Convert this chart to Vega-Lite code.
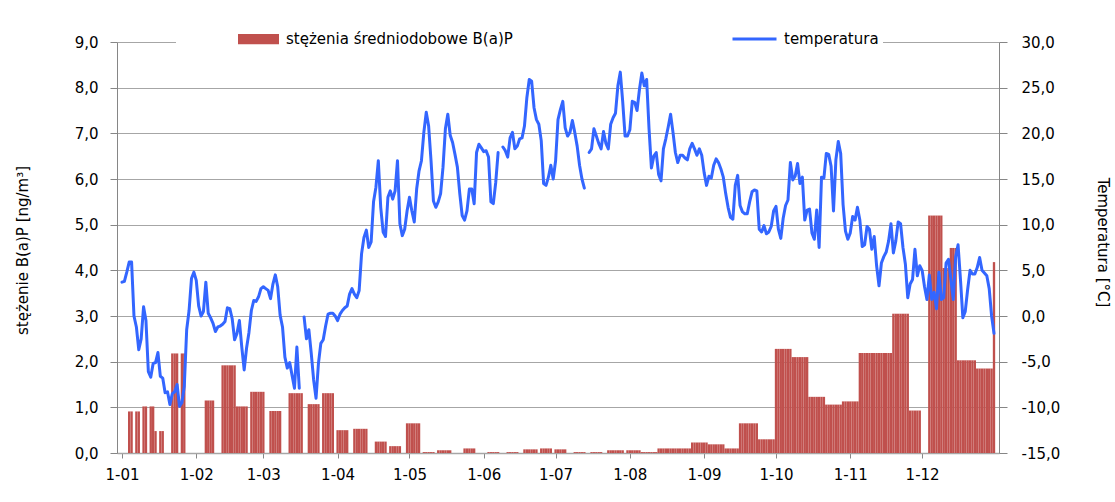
{
"$schema":"https://vega.github.io/schema/vega-lite/v6.json",
"width":882,"height":411,
"autosize":{"type":"none"},
"padding":{"left":117,"top":42,"right":116,"bottom":49},
"background":"white",
"config":{
 "view":{"stroke":null},
 "font":"DejaVu Sans",
 "locale":{"number":{"decimal":",","thousands":" ","grouping":[3],"currency":[""," zł"],"minus":"-"}},
 "axis":{"labelFont":"DejaVu Sans","titleFont":"DejaVu Sans","labelColor":"#000000","titleColor":"#000000","labelFontSize":15,"titleFontSize":15,"titleFontWeight":"normal","domainColor":"#868686","tickColor":"#868686","gridColor":"#a6a6a6","labelFlush":false,"labelOverlap":false}
},
"data":{"values":[
{"date":"2010-01-01","temp":3.7},{"date":"2010-01-02","temp":3.8},{"date":"2010-01-03","temp":4.8},{"date":"2010-01-04","bap":0.91,"temp":5.9},{"date":"2010-01-05","bap":0.91,"temp":5.9},{"date":"2010-01-06","temp":0.0},{"date":"2010-01-07","bap":0.91,"temp":-1.2},{"date":"2010-01-08","bap":0.91,"temp":-3.7},{"date":"2010-01-09","temp":-2.5},{"date":"2010-01-10","bap":1.02,"temp":1.0},{"date":"2010-01-11","bap":1.02,"temp":-0.5},{"date":"2010-01-12","temp":-6.1},{"date":"2010-01-13","bap":1.02,"temp":-6.7},{"date":"2010-01-14","bap":1.02,"temp":-5.2},{"date":"2010-01-15","bap":0.48,"temp":-5.1},{"date":"2010-01-16","temp":-4.0},{"date":"2010-01-17","bap":0.48,"temp":-6.6},{"date":"2010-01-18","bap":0.48,"temp":-6.8},{"date":"2010-01-19","temp":-8.4},{"date":"2010-01-20","temp":-8.3},{"date":"2010-01-21","temp":-9.7},{"date":"2010-01-22","bap":2.18,"temp":-8.5},{"date":"2010-01-23","bap":2.18,"temp":-8.3},{"date":"2010-01-24","bap":2.18,"temp":-7.5},{"date":"2010-01-25","temp":-9.9},{"date":"2010-01-26","bap":2.18,"temp":-9.5},{"date":"2010-01-27","bap":2.18,"temp":-7.7},{"date":"2010-01-28","temp":-1.5},{"date":"2010-01-29","temp":0.6},{"date":"2010-01-30","temp":4.1},{"date":"2010-01-31","temp":4.8},
{"date":"2010-02-01","temp":3.9},{"date":"2010-02-02","temp":1.1},{"date":"2010-02-03","temp":0.0},{"date":"2010-02-04","temp":0.5},{"date":"2010-02-05","bap":1.15,"temp":3.7},{"date":"2010-02-06","bap":1.15,"temp":0.3},{"date":"2010-02-07","bap":1.15,"temp":-0.2},{"date":"2010-02-08","bap":1.15,"temp":-0.8},{"date":"2010-02-09","temp":-1.7},{"date":"2010-02-10","temp":-1.2},{"date":"2010-02-11","temp":-1.1},{"date":"2010-02-12","bap":1.92,"temp":-0.9},{"date":"2010-02-13","bap":1.92,"temp":-0.6},{"date":"2010-02-14","bap":1.92,"temp":0.9},{"date":"2010-02-15","bap":1.92,"temp":0.8},{"date":"2010-02-16","bap":1.92,"temp":-0.3},{"date":"2010-02-17","bap":1.92,"temp":-2.6},{"date":"2010-02-18","bap":1.02,"temp":-1.9},{"date":"2010-02-19","bap":1.02,"temp":-0.5},{"date":"2010-02-20","bap":1.02,"temp":-3.4},{"date":"2010-02-21","bap":1.02,"temp":-5.9},{"date":"2010-02-22","bap":1.02,"temp":-3.5},{"date":"2010-02-23","temp":-1.8},{"date":"2010-02-24","bap":1.34,"temp":0.6},{"date":"2010-02-25","bap":1.34,"temp":1.7},{"date":"2010-02-26","bap":1.34,"temp":1.6},{"date":"2010-02-27","bap":1.34,"temp":2.1},{"date":"2010-02-28","bap":1.34,"temp":3.0},
{"date":"2010-03-01","bap":1.34,"temp":3.2},{"date":"2010-03-02","temp":3.0},{"date":"2010-03-03","temp":2.8},{"date":"2010-03-04","bap":0.92,"temp":1.9},{"date":"2010-03-05","bap":0.92,"temp":3.5},{"date":"2010-03-06","bap":0.92,"temp":4.5},{"date":"2010-03-07","bap":0.92,"temp":3.2},{"date":"2010-03-08","bap":0.92,"temp":0.1},{"date":"2010-03-09","temp":-1.2},{"date":"2010-03-10","temp":-4.5},{"date":"2010-03-11","temp":-5.7},{"date":"2010-03-12","bap":1.31,"temp":-5.1},{"date":"2010-03-13","bap":1.31,"temp":-6.5},{"date":"2010-03-14","bap":1.31,"temp":-7.9},{"date":"2010-03-15","bap":1.31,"temp":-3.4},{"date":"2010-03-16","bap":1.31,"temp":-7.9},{"date":"2010-03-17","bap":1.31,"temp":null},{"date":"2010-03-18","temp":-0.1},{"date":"2010-03-19","temp":-2.5},{"date":"2010-03-20","bap":1.07,"temp":-1.5},{"date":"2010-03-21","bap":1.07,"temp":-4.1},{"date":"2010-03-22","bap":1.07,"temp":-7.0},{"date":"2010-03-23","bap":1.07,"temp":-9.0},{"date":"2010-03-24","bap":1.07,"temp":-5.2},{"date":"2010-03-25","temp":-3.0},{"date":"2010-03-26","bap":1.31,"temp":-2.6},{"date":"2010-03-27","bap":1.31,"temp":-1.1},{"date":"2010-03-28","bap":1.31,"temp":0.2},{"date":"2010-03-29","bap":1.31,"temp":0.3},{"date":"2010-03-30","bap":1.31,"temp":0.3},{"date":"2010-03-31","temp":0.0},
{"date":"2010-04-01","bap":0.5,"temp":-0.5},{"date":"2010-04-02","bap":0.5,"temp":0.2},{"date":"2010-04-03","bap":0.5,"temp":0.6},{"date":"2010-04-04","bap":0.5,"temp":0.9},{"date":"2010-04-05","bap":0.5,"temp":1.1},{"date":"2010-04-06","temp":2.4},{"date":"2010-04-07","temp":3.0},{"date":"2010-04-08","bap":0.53,"temp":2.4},{"date":"2010-04-09","bap":0.53,"temp":2.0},{"date":"2010-04-10","bap":0.53,"temp":2.8},{"date":"2010-04-11","bap":0.53,"temp":6.8},{"date":"2010-04-12","bap":0.53,"temp":8.6},{"date":"2010-04-13","bap":0.53,"temp":9.4},{"date":"2010-04-14","temp":7.5},{"date":"2010-04-15","temp":8.1},{"date":"2010-04-16","temp":12.5},{"date":"2010-04-17","bap":0.25,"temp":14.1},{"date":"2010-04-18","bap":0.25,"temp":17.0},{"date":"2010-04-19","bap":0.25,"temp":11.9},{"date":"2010-04-20","bap":0.25,"temp":9.2},{"date":"2010-04-21","bap":0.25,"temp":8.7},{"date":"2010-04-22","temp":13.0},{"date":"2010-04-23","bap":0.15,"temp":13.7},{"date":"2010-04-24","bap":0.15,"temp":12.8},{"date":"2010-04-25","bap":0.15,"temp":13.7},{"date":"2010-04-26","bap":0.15,"temp":17.0},{"date":"2010-04-27","bap":0.15,"temp":10.1},{"date":"2010-04-28","temp":8.8},{"date":"2010-04-29","temp":9.5},{"date":"2010-04-30","bap":0.65,"temp":11.5},
{"date":"2010-05-01","bap":0.65,"temp":13.0},{"date":"2010-05-02","bap":0.65,"temp":11.5},{"date":"2010-05-03","bap":0.65,"temp":10.3},{"date":"2010-05-04","bap":0.65,"temp":13.9},{"date":"2010-05-05","bap":0.65,"temp":15.9},{"date":"2010-05-06","temp":17.0},{"date":"2010-05-07","bap":0.02,"temp":20.1},{"date":"2010-05-08","bap":0.02,"temp":22.3},{"date":"2010-05-09","bap":0.02,"temp":20.8},{"date":"2010-05-10","bap":0.02,"temp":17.0},{"date":"2010-05-11","bap":0.02,"temp":12.6},{"date":"2010-05-12","temp":11.9},{"date":"2010-05-13","bap":0.06,"temp":12.5},{"date":"2010-05-14","bap":0.06,"temp":13.4},{"date":"2010-05-15","bap":0.06,"temp":16.3},{"date":"2010-05-16","bap":0.06,"temp":20.5},{"date":"2010-05-17","bap":0.06,"temp":22.1},{"date":"2010-05-18","bap":0.06,"temp":19.8},{"date":"2010-05-19","temp":19.0},{"date":"2010-05-20","temp":17.7},{"date":"2010-05-21","temp":16.3},{"date":"2010-05-22","temp":13.4},{"date":"2010-05-23","temp":11.0},{"date":"2010-05-24","bap":0.1,"temp":10.5},{"date":"2010-05-25","bap":0.1,"temp":11.5},{"date":"2010-05-26","bap":0.1,"temp":13.9},{"date":"2010-05-27","bap":0.1,"temp":13.9},{"date":"2010-05-28","bap":0.1,"temp":12.3},{"date":"2010-05-29","temp":17.9},{"date":"2010-05-30","temp":18.8},{"date":"2010-05-31","temp":18.4},
{"date":"2010-06-01","temp":18.0},{"date":"2010-06-02","temp":18.1},{"date":"2010-06-03","bap":0.02,"temp":17.4},{"date":"2010-06-04","bap":0.02,"temp":12.5},{"date":"2010-06-05","bap":0.02,"temp":12.3},{"date":"2010-06-06","bap":0.02,"temp":14.6},{"date":"2010-06-07","bap":0.02,"temp":17.9},{"date":"2010-06-08","temp":null},{"date":"2010-06-09","temp":18.5},{"date":"2010-06-10","temp":18.1},{"date":"2010-06-11","bap":0.02,"temp":17.4},{"date":"2010-06-12","bap":0.02,"temp":19.5},{"date":"2010-06-13","bap":0.02,"temp":20.1},{"date":"2010-06-14","bap":0.02,"temp":18.3},{"date":"2010-06-15","bap":0.02,"temp":18.6},{"date":"2010-06-16","temp":19.4},{"date":"2010-06-17","temp":19.5},{"date":"2010-06-18","bap":0.08,"temp":20.8},{"date":"2010-06-19","bap":0.08,"temp":23.9},{"date":"2010-06-20","bap":0.08,"temp":25.9},{"date":"2010-06-21","bap":0.08,"temp":25.7},{"date":"2010-06-22","bap":0.08,"temp":22.8},{"date":"2010-06-23","bap":0.08,"temp":21.5},{"date":"2010-06-24","temp":21.0},{"date":"2010-06-25","bap":0.1,"temp":19.2},{"date":"2010-06-26","bap":0.1,"temp":14.5},{"date":"2010-06-27","bap":0.1,"temp":14.3},{"date":"2010-06-28","bap":0.1,"temp":15.2},{"date":"2010-06-29","bap":0.1,"temp":16.5},{"date":"2010-06-30","temp":15.0},
{"date":"2010-07-01","bap":0.08,"temp":17.0},{"date":"2010-07-02","bap":0.08,"temp":21.5},{"date":"2010-07-03","bap":0.08,"temp":22.6},{"date":"2010-07-04","bap":0.08,"temp":23.5},{"date":"2010-07-05","bap":0.08,"temp":20.6},{"date":"2010-07-06","temp":19.7},{"date":"2010-07-07","temp":20.1},{"date":"2010-07-08","temp":21.4},{"date":"2010-07-09","bap":0.02,"temp":20.1},{"date":"2010-07-10","bap":0.02,"temp":18.6},{"date":"2010-07-11","bap":0.02,"temp":16.5},{"date":"2010-07-12","bap":0.02,"temp":15.0},{"date":"2010-07-13","bap":0.02,"temp":14.0},{"date":"2010-07-14","temp":null},{"date":"2010-07-15","temp":17.9},{"date":"2010-07-16","bap":0.02,"temp":18.3},{"date":"2010-07-17","bap":0.02,"temp":20.5},{"date":"2010-07-18","bap":0.02,"temp":19.7},{"date":"2010-07-19","bap":0.02,"temp":18.9},{"date":"2010-07-20","bap":0.02,"temp":18.3},{"date":"2010-07-21","temp":20.2},{"date":"2010-07-22","temp":18.9},{"date":"2010-07-23","bap":0.06,"temp":18.3},{"date":"2010-07-24","bap":0.06,"temp":21.0},{"date":"2010-07-25","bap":0.06,"temp":21.7},{"date":"2010-07-26","bap":0.06,"temp":22.2},{"date":"2010-07-27","bap":0.06,"temp":25.2},{"date":"2010-07-28","bap":0.06,"temp":26.7},{"date":"2010-07-29","bap":0.06,"temp":23.5},{"date":"2010-07-30","temp":19.7},{"date":"2010-07-31","bap":0.06,"temp":19.7},
{"date":"2010-08-01","bap":0.06,"temp":20.4},{"date":"2010-08-02","bap":0.06,"temp":23.5},{"date":"2010-08-03","bap":0.06,"temp":23.4},{"date":"2010-08-04","bap":0.06,"temp":22.5},{"date":"2010-08-05","bap":0.06,"temp":24.8},{"date":"2010-08-06","bap":0.02,"temp":26.6},{"date":"2010-08-07","bap":0.02,"temp":25.2},{"date":"2010-08-08","bap":0.02,"temp":25.9},{"date":"2010-08-09","bap":0.02,"temp":20.5},{"date":"2010-08-10","bap":0.02,"temp":16.2},{"date":"2010-08-11","bap":0.02,"temp":17.5},{"date":"2010-08-12","bap":0.02,"temp":17.9},{"date":"2010-08-13","bap":0.1,"temp":15.5},{"date":"2010-08-14","bap":0.1,"temp":14.8},{"date":"2010-08-15","bap":0.1,"temp":18.3},{"date":"2010-08-16","bap":0.1,"temp":19.4},{"date":"2010-08-17","bap":0.1,"temp":20.7},{"date":"2010-08-18","bap":0.1,"temp":22.1},{"date":"2010-08-19","bap":0.1,"temp":20.1},{"date":"2010-08-20","bap":0.1,"temp":17.9},{"date":"2010-08-21","bap":0.1,"temp":16.8},{"date":"2010-08-22","bap":0.1,"temp":17.6},{"date":"2010-08-23","bap":0.1,"temp":17.6},{"date":"2010-08-24","bap":0.1,"temp":17.3},{"date":"2010-08-25","bap":0.1,"temp":17.1},{"date":"2010-08-26","bap":0.1,"temp":18.3},{"date":"2010-08-27","bap":0.23,"temp":18.9},{"date":"2010-08-28","bap":0.23,"temp":18.3},{"date":"2010-08-29","bap":0.23,"temp":17.6},{"date":"2010-08-30","bap":0.23,"temp":18.3},{"date":"2010-08-31","bap":0.23,"temp":17.6},
{"date":"2010-09-01","bap":0.23,"temp":15.7},{"date":"2010-09-02","bap":0.23,"temp":14.3},{"date":"2010-09-03","bap":0.19,"temp":15.3},{"date":"2010-09-04","bap":0.19,"temp":15.1},{"date":"2010-09-05","bap":0.19,"temp":16.5},{"date":"2010-09-06","bap":0.19,"temp":17.2},{"date":"2010-09-07","bap":0.19,"temp":16.8},{"date":"2010-09-08","bap":0.19,"temp":16.1},{"date":"2010-09-09","bap":0.19,"temp":15.2},{"date":"2010-09-10","bap":0.1,"temp":13.4},{"date":"2010-09-11","bap":0.1,"temp":11.9},{"date":"2010-09-12","bap":0.1,"temp":10.8},{"date":"2010-09-13","bap":0.1,"temp":10.6},{"date":"2010-09-14","bap":0.1,"temp":14.3},{"date":"2010-09-15","bap":0.1,"temp":15.4},{"date":"2010-09-16","bap":0.65,"temp":12.1},{"date":"2010-09-17","bap":0.65,"temp":11.4},{"date":"2010-09-18","bap":0.65,"temp":11.2},{"date":"2010-09-19","bap":0.65,"temp":11.2},{"date":"2010-09-20","bap":0.65,"temp":12.5},{"date":"2010-09-21","bap":0.65,"temp":13.6},{"date":"2010-09-22","bap":0.65,"temp":13.8},{"date":"2010-09-23","bap":0.65,"temp":13.7},{"date":"2010-09-24","bap":0.3,"temp":9.5},{"date":"2010-09-25","bap":0.3,"temp":9.2},{"date":"2010-09-26","bap":0.3,"temp":9.9},{"date":"2010-09-27","bap":0.3,"temp":9.0},{"date":"2010-09-28","bap":0.3,"temp":9.2},{"date":"2010-09-29","bap":0.3,"temp":9.8},{"date":"2010-09-30","bap":0.3,"temp":11.5},
{"date":"2010-10-01","bap":2.28,"temp":12.0},{"date":"2010-10-02","bap":2.28,"temp":9.5},{"date":"2010-10-03","bap":2.28,"temp":8.5},{"date":"2010-10-04","bap":2.28,"temp":10.7},{"date":"2010-10-05","bap":2.28,"temp":12.1},{"date":"2010-10-06","bap":2.28,"temp":12.7},{"date":"2010-10-07","bap":2.28,"temp":16.8},{"date":"2010-10-08","bap":2.1,"temp":14.9},{"date":"2010-10-09","bap":2.1,"temp":15.3},{"date":"2010-10-10","bap":2.1,"temp":16.7},{"date":"2010-10-11","bap":2.1,"temp":14.5},{"date":"2010-10-12","bap":2.1,"temp":15.2},{"date":"2010-10-13","bap":2.1,"temp":10.5},{"date":"2010-10-14","bap":2.1,"temp":11.6},{"date":"2010-10-15","bap":1.23,"temp":11.7},{"date":"2010-10-16","bap":1.23,"temp":9.1},{"date":"2010-10-17","bap":1.23,"temp":8.4},{"date":"2010-10-18","bap":1.23,"temp":11.6},{"date":"2010-10-19","bap":1.23,"temp":7.5},{"date":"2010-10-20","bap":1.23,"temp":15.2},{"date":"2010-10-21","bap":1.23,"temp":15.1},{"date":"2010-10-22","bap":1.06,"temp":17.8},{"date":"2010-10-23","bap":1.06,"temp":17.7},{"date":"2010-10-24","bap":1.06,"temp":16.4},{"date":"2010-10-25","bap":1.06,"temp":11.5},{"date":"2010-10-26","bap":1.06,"temp":17.1},{"date":"2010-10-27","bap":1.06,"temp":19.1},{"date":"2010-10-28","bap":1.06,"temp":17.8},{"date":"2010-10-29","bap":1.13,"temp":12.2},{"date":"2010-10-30","bap":1.13,"temp":9.3},{"date":"2010-10-31","bap":1.13,"temp":8.4},
{"date":"2010-11-01","bap":1.13,"temp":9.1},{"date":"2010-11-02","bap":1.13,"temp":10.9},{"date":"2010-11-03","bap":1.13,"temp":10.5},{"date":"2010-11-04","bap":1.13,"temp":11.9},{"date":"2010-11-05","bap":2.19,"temp":10.5},{"date":"2010-11-06","bap":2.19,"temp":7.6},{"date":"2010-11-07","bap":2.19,"temp":7.8},{"date":"2010-11-08","bap":2.19,"temp":9.8},{"date":"2010-11-09","bap":2.19,"temp":9.5},{"date":"2010-11-10","bap":2.19,"temp":7.3},{"date":"2010-11-11","bap":2.19,"temp":8.7},{"date":"2010-11-12","bap":2.19,"temp":5.5},{"date":"2010-11-13","bap":2.19,"temp":3.3},{"date":"2010-11-14","bap":2.19,"temp":5.8},{"date":"2010-11-15","bap":2.19,"temp":6.5},{"date":"2010-11-16","bap":2.19,"temp":7.0},{"date":"2010-11-17","bap":2.19,"temp":8.2},{"date":"2010-11-18","bap":2.19,"temp":10.1},{"date":"2010-11-19","bap":3.05,"temp":6.9},{"date":"2010-11-20","bap":3.05,"temp":8.2},{"date":"2010-11-21","bap":3.05,"temp":10.3},{"date":"2010-11-22","bap":3.05,"temp":10.1},{"date":"2010-11-23","bap":3.05,"temp":7.5},{"date":"2010-11-24","bap":3.05,"temp":5.7},{"date":"2010-11-25","bap":3.05,"temp":2.0},{"date":"2010-11-26","bap":0.93,"temp":3.5},{"date":"2010-11-27","bap":0.93,"temp":4.0},{"date":"2010-11-28","bap":0.93,"temp":7.3},{"date":"2010-11-29","bap":0.93,"temp":4.4},{"date":"2010-11-30","bap":0.93,"temp":5.5},
{"date":"2010-12-01","temp":5.0},{"date":"2010-12-02","temp":3.2},{"date":"2010-12-03","temp":1.8},{"date":"2010-12-04","bap":5.2,"temp":4.5},{"date":"2010-12-05","bap":5.2,"temp":1.8},{"date":"2010-12-06","bap":5.2,"temp":2.6},{"date":"2010-12-07","bap":5.2,"temp":0.8},{"date":"2010-12-08","bap":5.2,"temp":4.8},{"date":"2010-12-09","bap":5.2,"temp":1.8},{"date":"2010-12-10","bap":4.05,"temp":2.0},{"date":"2010-12-11","bap":4.05,"temp":5.8},{"date":"2010-12-12","bap":4.05,"temp":6.2},{"date":"2010-12-13","bap":4.49,"temp":4.0},{"date":"2010-12-14","bap":4.49,"temp":1.8},{"date":"2010-12-15","bap":4.49,"temp":6.5},{"date":"2010-12-16","bap":2.03,"temp":7.8},{"date":"2010-12-17","bap":2.03,"temp":4.0},{"date":"2010-12-18","bap":2.03,"temp":-0.2},{"date":"2010-12-19","bap":2.03,"temp":0.5},{"date":"2010-12-20","bap":2.03,"temp":2.9},{"date":"2010-12-21","bap":2.03,"temp":5.0},{"date":"2010-12-22","bap":2.03,"temp":4.6},{"date":"2010-12-23","bap":2.03,"temp":4.6},{"date":"2010-12-24","bap":1.85,"temp":5.3},{"date":"2010-12-25","bap":1.85,"temp":6.4},{"date":"2010-12-26","bap":1.85,"temp":5.0},{"date":"2010-12-27","bap":1.85,"temp":4.7},{"date":"2010-12-28","bap":1.85,"temp":4.4},{"date":"2010-12-29","bap":1.85,"temp":3.0},{"date":"2010-12-30","bap":1.85,"temp":0.0},{"date":"2010-12-31","bap":4.18,"temp":-1.9}
]},
"layer":[
 {"mark":{"type":"bar","size":2.35,"clip":true},
  "encoding":{
   "x":{"field":"date","type":"temporal",
    "scale":{"type":"utc","domain":[{"year":2010,"month":1,"date":1,"utc":true},{"year":2010,"month":12,"date":31,"utc":true}]},
    "axis":{"title":null,"grid":false,"labelExpr":"utcFormat(datum.value, '%-d-%m')","tickSize":5,"labelPadding":9,"domainColor":"#a6a6a6","domainWidth":1.5,
     "values":[{"year":2010,"month":1,"date":1,"utc":true},{"year":2010,"month":2,"date":1,"utc":true},{"year":2010,"month":3,"date":1,"utc":true},{"year":2010,"month":4,"date":1,"utc":true},{"year":2010,"month":5,"date":1,"utc":true},{"year":2010,"month":6,"date":1,"utc":true},{"year":2010,"month":7,"date":1,"utc":true},{"year":2010,"month":8,"date":1,"utc":true},{"year":2010,"month":9,"date":1,"utc":true},{"year":2010,"month":10,"date":1,"utc":true},{"year":2010,"month":11,"date":1,"utc":true},{"year":2010,"month":12,"date":1,"utc":true}]}},
   "y":{"field":"bap","type":"quantitative","scale":{"domain":[0,9],"nice":false,"zero":true},
    "axis":{"values":[0,1,2,3,4,5,6,7,8,9],"format":".1f","tickSize":7,"labelPadding":12,"grid":true,"gridWidth":1.2,
     "title":"stężenie B(a)P [ng/m³]","titleAngle":-90,"titleX":-95,"titleY":208,"titleAlign":"center","titleBaseline":"middle"}},
   "fill":{"datum":"stężenia średniodobowe B(a)P","type":"nominal","scale":{"range":["#c0504d"]},
    "legend":{"orient":"none","legendX":59,"legendY":-18,"direction":"horizontal","title":null,"fillColor":"white","padding":4,
     "symbolType":"M-1,-0.25H1V0.25H-1Z","symbolSize":1681,"symbolOffset":58,"symbolStrokeWidth":0,"clipHeight":22,
     "labelOffset":7,"labelFontSize":15,"labelFont":"DejaVu Sans","labelColor":"#000000","labelLimit":500}}
  }},
 {"mark":{"type":"line","strokeWidth":3,"strokeJoin":"round","strokeCap":"round","invalid":"break-paths-show-domains","clip":true},
  "encoding":{
   "x":{"field":"date","type":"temporal",
    "scale":{"type":"utc","domain":[{"year":2010,"month":1,"date":1,"utc":true},{"year":2010,"month":12,"date":31,"utc":true}]},
    "axis":{"title":null,"grid":false,"labelExpr":"utcFormat(datum.value, '%-d-%m')","tickSize":5,"labelPadding":9,"domainColor":"#a6a6a6","domainWidth":1.5,
     "values":[{"year":2010,"month":1,"date":1,"utc":true},{"year":2010,"month":2,"date":1,"utc":true},{"year":2010,"month":3,"date":1,"utc":true},{"year":2010,"month":4,"date":1,"utc":true},{"year":2010,"month":5,"date":1,"utc":true},{"year":2010,"month":6,"date":1,"utc":true},{"year":2010,"month":7,"date":1,"utc":true},{"year":2010,"month":8,"date":1,"utc":true},{"year":2010,"month":9,"date":1,"utc":true},{"year":2010,"month":10,"date":1,"utc":true},{"year":2010,"month":11,"date":1,"utc":true},{"year":2010,"month":12,"date":1,"utc":true}]}},
   "y":{"field":"temp","type":"quantitative","scale":{"domain":[-15,30],"nice":false,"zero":false},
    "axis":{"orient":"right","values":[-15,-10,-5,0,5,10,15,20,25,30],"format":".1f","tickSize":8,"labelPadding":14,"grid":false,
     "title":"Temperatura [°C]","titleAngle":90,"titleX":103,"titleY":200,"titleAlign":"center","titleBaseline":"middle"}},
   "stroke":{"datum":"temperatura","type":"nominal","scale":{"range":["#3366ff"]},
    "legend":{"orient":"none","legendX":398,"legendY":-18,"direction":"horizontal","title":null,"fillColor":"white","padding":4,
     "symbolType":"stroke","symbolSize":1936,"symbolOffset":212,"symbolStrokeWidth":3,"clipHeight":22,
     "labelOffset":6,"labelFontSize":15,"labelFont":"DejaVu Sans","labelColor":"#000000","labelLimit":500}}
  }}
],
"resolve":{"scale":{"y":"independent"}}
}
